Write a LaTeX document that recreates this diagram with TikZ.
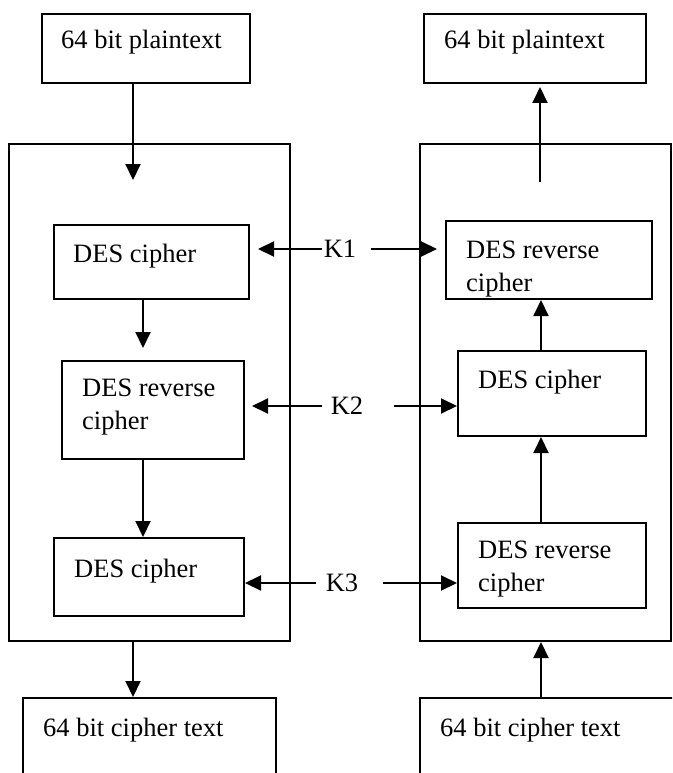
\documentclass[tikz,border=0pt]{standalone}
\usepackage{fontspec}
\setmainfont{Liberation Serif}
\usetikzlibrary{arrows.meta,positioning}

\begin{document}
\begin{tikzpicture}[x=1pt,y=-1pt,
    box/.style={draw, line width=2pt, inner sep=0pt, anchor=north west},
    txt/.style={inner sep=0pt, anchor=north west, align=left,
        font=\fontsize{26.5}{33}\selectfont},
    arr/.style={-{Triangle[length=16pt,width=15pt]}, line width=2pt}]
    \clip (0,0) rectangle (672,773);

    % Outer blocks
    \node[box, minimum width=281pt, minimum height=497pt] (outL) at (8,143) {};
    \node[box, minimum width=251pt, minimum height=497pt] (outR) at (419,143) {};

    % Plaintext and ciphertext boxes
    \node[box, minimum width=208pt, minimum height=69pt] (ptL) at (41,13) {};
    \node[box, minimum width=222pt, minimum height=69pt] (ptR) at (423,13) {};
    \node[box, minimum width=253pt, minimum height=120pt] (ctL) at (22,697) {};
    \node[box, minimum width=300pt, minimum height=120pt] (ctR) at (419,697) {};
    \node[txt] (ptLt) at (61,30) {64 bit plaintext};
    \node[txt] (ptRt) at (444,30) {64 bit plaintext};
    \node[txt] (ctLt) at (43,718) {64 bit cipher text};
    \node[txt] (ctRt) at (440,718) {64 bit cipher text};

    % Encryption side
    \node[box, minimum width=195pt, minimum height=74pt] (encL1) at (53,224) {};
    \node[box, minimum width=182pt, minimum height=98pt] (decL2) at (61,360) {};
    \node[box, minimum width=190pt, minimum height=78pt] (encL3) at (53,537) {};
    \node[txt] (encL1t) at (73,244) {DES cipher};
    \node[txt] (decL2t) at (82,379) {DES reverse\\cipher};
    \node[txt] (encL3t) at (74,559) {DES cipher};

    % Decryption side
    \node[box, minimum width=206pt, minimum height=78pt] (decR1) at (445,220) {};
    \node[box, minimum width=188pt, minimum height=85pt] (encR2) at (457,350) {};
    \node[box, minimum width=188pt, minimum height=85pt] (decR3) at (457,522) {};
    \node[txt] (decR1t) at (466,241) {DES reverse\\cipher};
    \node[txt] (encR2t) at (478,370) {DES cipher};
    \node[txt] (decR3t) at (478,541) {DES reverse\\cipher};

    % Keys
    \node[inner sep=0pt, font=\fontsize{26.5}{33}\selectfont] (k1) at (340,249) {K1};
    \node[inner sep=0pt, font=\fontsize{26.5}{33}\selectfont] (k2) at (347,406) {K2};
    \node[inner sep=0pt, font=\fontsize{26.5}{33}\selectfont] (k3) at (342,583) {K3};

    % Data flow
    \coordinate (tL) at (133,180);
    \coordinate (aR) at (540,182);
    \coordinate (xL) at (143,0);
    \coordinate (xR) at (541,0);
    \draw[arr] (ptL.south -| tL) -- (tL);
    \draw[arr, shorten >=12pt] (encL1.south -| xL) -- (decL2.north -| xL);
    \draw[arr] (decL2.south -| xL) -- (encL3.north -| xL);
    \draw[arr] (outL.south -| tL) -- (ctL.north -| tL);
    \draw[arr, shorten >=3pt] (aR) -- (aR |- ptR.south);
    \draw[arr] (encR2.north -| xR) -- (decR1.south -| xR);
    \draw[arr] (decR3.north -| xR) -- (encR2.south -| xR);
    \draw[arr] (ctR.north -| xR) -- (outR.south -| xR);

    % Key arrows
    \draw[arr, shorten <=2pt, shorten >=8pt] (k1.west) -- (k1.west -| encL1.east);
    \draw[arr, shorten <=15pt, shorten >=8pt] (k1.east) -- (k1.east -| decR1.west);
    \draw[arr, shorten <=9pt, shorten >=7pt] (k2.west) -- (k2.west -| decL2.east);
    \draw[arr, shorten <=31pt] (k2.east) -- (k2.east -| encR2.west);
    \draw[arr, shorten <=10pt] (k3.west) -- (k3.west -| encL3.east);
    \draw[arr, shorten <=25pt] (k3.east) -- (k3.east -| decR3.west);
\end{tikzpicture}
\end{document}
